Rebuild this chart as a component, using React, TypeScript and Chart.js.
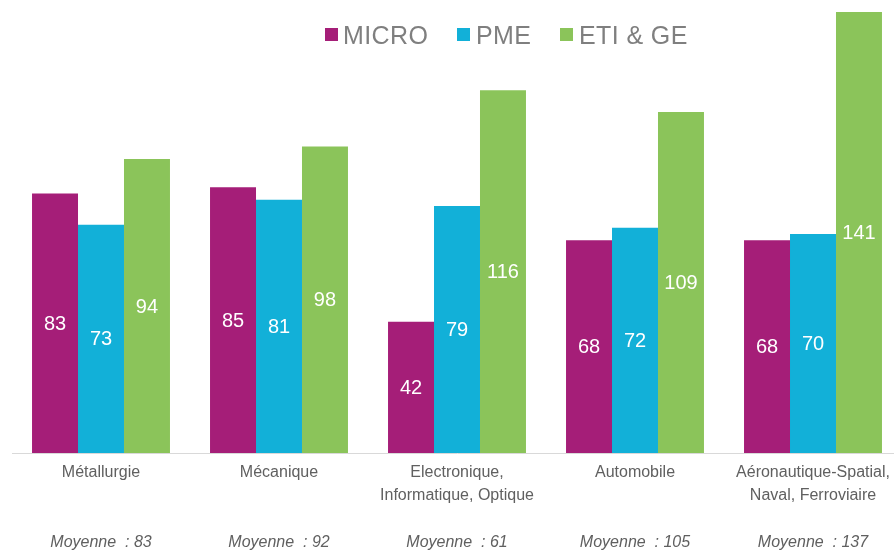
import React, { useEffect, useRef } from "react";
import { Chart, registerables } from "chart.js";

Chart.register(...registerables);

const categories: (string | string[])[] = [
  "Métallurgie",
  "Mécanique",
  ["Electronique,", "Informatique, Optique"],
  "Automobile",
  ["Aéronautique-Spatial,", "Naval, Ferroviaire"],
];
const seriesNames = ["MICRO", "PME", "ETI & GE"];
const microValues = [83, 85, 42, 68, 68];
const pmeValues = [73, 81, 79, 72, 70];
const etiValues = [94, 98, 116, 109, 141];
const meanValues = [83, 92, 61, 105, 137];
const colors = ["#A51E78", "#12B0D8", "#8BC45A"];

const meanLabels = meanValues.map((m) => `Moyenne  : ${m}`);

const FONT = "'Liberation Sans', Arial, sans-serif";

const valueLabelPlugin = {
  id: "valueLabels",
  afterDatasetsDraw(chart: any) {
    const ctx = chart.ctx;
    ctx.save();
    ctx.font = `20px ${FONT}`;
    ctx.fillStyle = "#ffffff";
    ctx.textAlign = "center";
    ctx.textBaseline = "middle";
    chart.data.datasets.forEach((ds: any, di: number) => {
      const meta = chart.getDatasetMeta(di);
      meta.data.forEach((el: any, i: number) => {
        const y = (el.y + el.base) / 2 + 1;
        ctx.fillText(String(ds.data[i]), el.x, y);
      });
    });
    ctx.restore();
  },
};

export default function App() {
  const ref = useRef<HTMLCanvasElement>(null);
  useEffect(() => {
    if (!ref.current) return;
    const chart = new Chart(ref.current, {
      type: "bar",
      data: {
        labels: categories,
        datasets: [
          { label: seriesNames[0], data: microValues, backgroundColor: colors[0] },
          { label: seriesNames[1], data: pmeValues, backgroundColor: colors[1] },
          { label: seriesNames[2], data: etiValues, backgroundColor: colors[2] },
        ],
      },
      options: {
        responsive: false,
        animation: false,
        devicePixelRatio: 1,
        layout: { padding: { top: 12, left: 12, right: 8, bottom: 0 } },
        datasets: { bar: { categoryPercentage: 0.775, barPercentage: 1 } },
        plugins: {
          legend: { display: false },
          tooltip: { enabled: false },
        },
        scales: {
          y: { display: false, min: 0, max: 141 },
          x: {
            position: "bottom",
            weight: 0,
            grid: { display: false, drawTicks: false },
            border: { display: true, color: "#D9D9D9", width: 1 },
            ticks: {
              color: "#606060",
              font: { family: FONT, size: 16, lineHeight: 1.45 },
              padding: 8,
              maxRotation: 0,
              autoSkip: false,
            },
            afterFit: (s: any) => {
              s.height = 60;
            },
          },
          x2: {
            type: "category",
            position: "bottom",
            weight: 1,
            labels: meanLabels,
            offset: true,
            grid: { display: false, drawTicks: false },
            border: { display: false },
            ticks: {
              color: "#606060",
              font: { family: FONT, size: 16, style: "italic" },
              padding: 20,
              maxRotation: 0,
              autoSkip: false,
            },
            afterFit: (s: any) => {
              s.height = 38;
            },
          },
        },
      },
      plugins: [valueLabelPlugin],
    });
    return () => chart.destroy();
  }, []);

  const legendItems = [
    { box: 325, text: 343 },
    { box: 457, text: 476 },
    { box: 560, text: 579 },
  ];

  return (
    <div
      style={{
        position: "fixed",
        left: 0,
        top: 0,
        width: 894,
        height: 551,
        overflow: "hidden",
        background: "#ffffff",
      }}
    >
      <canvas ref={ref} width={910} height={551} style={{ position: "absolute", left: 0, top: 0 }} />
      {seriesNames.map((name, i) => (
        <React.Fragment key={name}>
          <div
            style={{
              position: "absolute",
              left: legendItems[i].box,
              top: 28,
              width: 13,
              height: 13,
              background: colors[i],
            }}
          />
          <div
            style={{
              position: "absolute",
              left: legendItems[i].text,
              top: 21,
              fontFamily: FONT,
              fontSize: 25,
              lineHeight: "28px",
              color: "#7F7F7F",
              whiteSpace: "nowrap",
              letterSpacing: "0.4px",
            }}
          >
            {name}
          </div>
        </React.Fragment>
      ))}
    </div>
  );
}
